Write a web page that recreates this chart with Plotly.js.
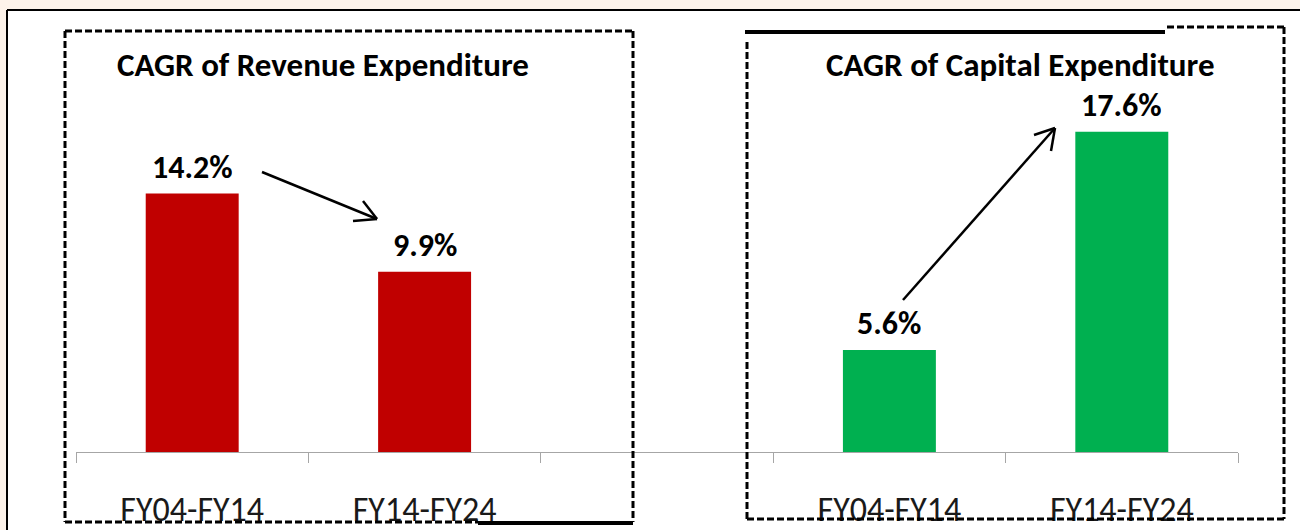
<!DOCTYPE html>
<html>
<head>
<meta charset="utf-8">
<script src="https://cdn.plot.ly/plotly-3.0.1.min.js"></script>
<style>html,body{margin:0;padding:0;background:#FDF3EA;}#chart{width:1300px;height:530px;}</style>
</head>
<body>
<div id="chart"></div>
<script>
// ---- data ----
const categories = ["FY04-FY14", "FY14-FY24", "FY04-FY14", "FY14-FY24"];
const revenueCAGR = [14.2, 9.9];
const capitalCAGR = [5.6, 17.6];
const panelTitles = ["CAGR of Revenue Expenditure", "CAGR of Capital Expenditure"];

// ---- layout helpers ----
const W = 1300, H = 530;
const M = {l: 76, r: 62, t: 88, b: 78};
const PW = W - M.l - M.r, PH = H - M.t - M.b;
const X = px => (px - M.l) / PW;
const Y = py => (H - M.b - py) / PH;
const FONT = "Carlito, Calibri, Lato, sans-serif";

const revX = [0, 1];
const capX = [3, 4];
const tickX = revX.concat(capX);

const traces = [
  {type: "bar", x: revX, y: revenueCAGR, width: 0.4, marker: {color: "#C00000"}, hoverinfo: "skip"},
  {type: "bar", x: capX, y: capitalCAGR, width: 0.4, marker: {color: "#00B050"}, hoverinfo: "skip"}
];

const annotations = [];
const labelFont = {family: FONT, size: 32, color: "#000"};
revenueCAGR.forEach((v, i) => annotations.push({x: revX[i], y: v, xref: "x", yref: "y", text: "<b>" + v.toFixed(1) + "%</b>", showarrow: false, yanchor: "bottom", yshift: 8, height: 34, font: labelFont}));
capitalCAGR.forEach((v, i) => annotations.push({x: capX[i], y: v, xref: "x", yref: "y", text: "<b>" + v.toFixed(1) + "%</b>", showarrow: false, yanchor: "bottom", yshift: 8, height: 34, font: labelFont}));
const titleFont = {family: FONT, size: 33, color: "#000"};
annotations.push({x: X(323), y: Y(65), xref: "paper", yref: "paper", text: "<b>" + panelTitles[0] + "</b>", showarrow: false, xanchor: "center", yanchor: "middle", height: 34, font: titleFont});
annotations.push({x: X(1020), y: Y(65), xref: "paper", yref: "paper", text: "<b>" + panelTitles[1] + "</b>", showarrow: false, xanchor: "center", yanchor: "middle", height: 34, font: titleFont});

const line = (x0, y0, x1, y1, w, dash, color) => ({type: "line", xref: "paper", yref: "paper", x0: X(x0), y0: Y(y0), x1: X(x1), y1: Y(y1), line: {color: color || "#000", width: w, dash: dash || "solid"}});
const D = "7px,3px";
const shapes = [
  // white card with black frame
  {type: "rect", xref: "paper", yref: "paper", x0: X(7), y0: Y(10), x1: X(1300), y1: Y(530), fillcolor: "#FFFFFF", line: {width: 0}, layer: "below"},
  line(7, 10, 1300, 10, 2),
  line(7, 10, 7, 530, 2),
  // left dashed box
  line(65, 31, 633, 31, 3, D),
  line(65, 31, 65, 522, 3, D),
  line(633, 31, 633, 522, 3, D),
  line(65, 522, 478, 522, 3, D),
  line(478, 523, 633, 523, 4),
  // right box
  line(745, 32, 1165, 32, 4),
  line(1167, 27, 1284, 27, 3, D),
  line(1284, 27, 1284, 519, 3, D),
  line(747, 42, 747, 519, 3, D),
  line(747, 519, 1284, 519, 3, D),
  // arrows
  line(262, 172, 377, 219, 2.5),
  line(363, 201, 377, 219, 2.5),
  line(353, 221, 377, 219, 2.5),
  line(903, 300, 1055, 128, 2.5),
  line(1034, 135, 1055, 128, 2.5),
  line(1051, 151, 1055, 128, 2.5)
];

const layout = {
  width: W, height: H,
  margin: M,
  paper_bgcolor: "#FDF3EA",
  plot_bgcolor: "rgba(0,0,0,0)",
  showlegend: false,
  barmode: "overlay",
  xaxis: {
    range: [-0.5, 4.5], fixedrange: true,
    tickmode: "array", tickvals: tickX, ticktext: categories, ticks: "",
    showline: true, linecolor: "#A6A6A6", linewidth: 1, showgrid: false, zeroline: false,
    ticklabelstandoff: 27,
    tickfont: {family: FONT, size: 34, color: "#1a1a1a"},
    minor: {tickmode: "array", tickvals: [-0.5, 0.5, 1.5, 2.5, 3.5, 4.5], ticks: "outside", ticklen: 10, tickwidth: 1, tickcolor: "#A6A6A6", showgrid: false}
  },
  yaxis: {range: [0, 20], visible: false, fixedrange: true},
  annotations: annotations,
  shapes: shapes
};

Plotly.newPlot("chart", traces, layout, {displayModeBar: false, staticPlot: true});
</script>
</body>
</html>
